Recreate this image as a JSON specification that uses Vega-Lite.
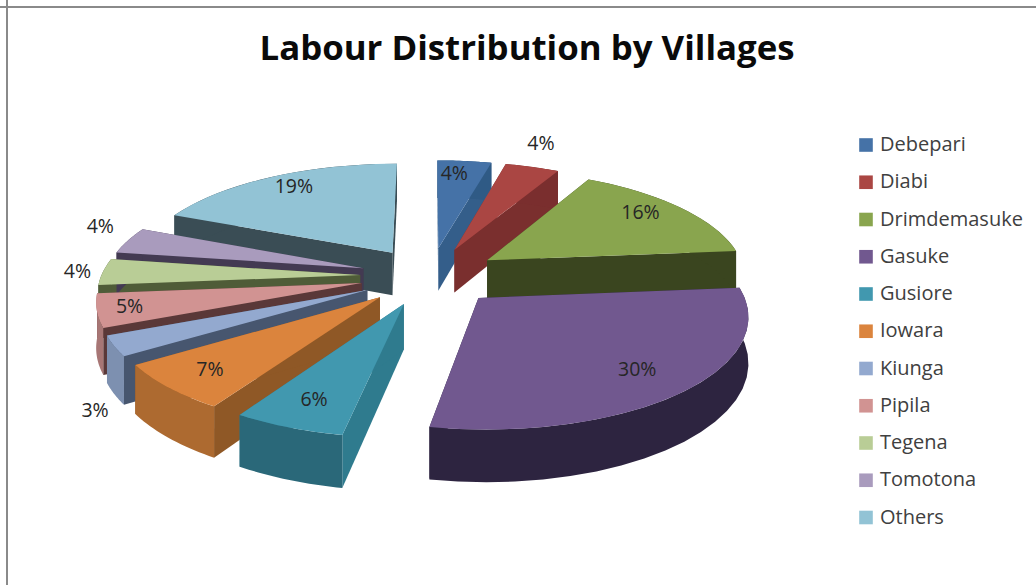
{
  "$schema": "https://vega.github.io/schema/vega-lite/v6.json",
  "width": 1036,
  "height": 585,
  "padding": 0,
  "autosize": {"type": "none"},
  "background": "white",
  "title": {
    "text": "Labour Distribution by Villages",
    "font": "Open Sans",
    "fontWeight": "bold",
    "fontSize": 34.8,
    "color": "#0a0a0a",
    "anchor": "middle",
    "offset": 0,
    "dx": 9,
    "dy": 96,
    "baseline": "alphabetic"
  },
  "config": {"view": {"stroke": null}},
  "params": [
    {"name": "explode", "value": 0.27},
    {"name": "rx", "value": 259},
    {"name": "ry", "value": 107},
    {"name": "tilt", "value": 0.137},
    {"name": "depth", "value": 44}
  ],
  "data": {
    "values": [
      {"village": "Debepari", "share": 4, "rank": 1},
      {"village": "Others", "share": 19, "rank": 11},
      {"village": "Diabi", "share": 4, "rank": 2},
      {"village": "Tomotona", "share": 4, "rank": 10},
      {"village": "Drimdemasuke", "share": 16, "rank": 3},
      {"village": "Tegena", "share": 4, "rank": 9},
      {"village": "Pipila", "share": 5, "rank": 8},
      {"village": "Kiunga", "share": 3, "rank": 7},
      {"village": "Iowara", "share": 7, "rank": 6},
      {"village": "Gasuke", "share": 30, "rank": 4},
      {"village": "Gusiore", "share": 6, "rank": 5}
    ]
  },
  "transform": [
    {"joinaggregate": [{"op": "sum", "field": "share", "as": "total"}]},
    {"stack": "share", "groupby": [], "sort": [{"field": "rank"}], "as": ["s0", "s1"]},
    {"calculate": "datum.s0 / datum.total * 2 * PI", "as": "a0"},
    {"calculate": "datum.s1 / datum.total * 2 * PI", "as": "a1"},
    {"calculate": "(datum.a0 + datum.a1) / 2", "as": "mid"}
  ],
  "encoding": {
    "x": {"type": "quantitative", "scale": {"domain": [-430, 606]}, "axis": null},
    "y": {"type": "quantitative", "scale": {"domain": [-309, 276]}, "axis": null}
  },
  "resolve": {"scale": {"fill": "independent"}},
  "layer": [
    {
      "description": "Radial cut faces of each extruded wedge",
      "transform": [
        {"calculate": "['a', 'b']", "as": "face"},
        {"flatten": ["face"]},
        {"calculate": "sequence(0, 4, 1)", "as": "j"},
        {"flatten": ["j"]},
        {"calculate": "datum.face === 'a' ? datum.a0 : datum.a1", "as": "a"},
        {"calculate": "datum.j === 1 || datum.j === 2 ? 1 : 0", "as": "r"},
        {"calculate": "explode * sin(datum.mid) + datum.r * sin(datum.a)", "as": "u"},
        {"calculate": "explode * cos(datum.mid) + datum.r * cos(datum.a)", "as": "v"},
        {"calculate": "1 / (1 + tilt * datum.v)", "as": "s"},
        {"calculate": "rx * datum.u * datum.s", "as": "px"},
        {"calculate": "ry * datum.v * datum.s - (datum.j >= 2 ? depth * datum.s : 0)", "as": "py"}
      ],
      "mark": {"type": "line", "interpolate": "linear-closed", "strokeWidth": 0},
      "encoding": {
        "x": {"field": "px", "type": "quantitative"},
        "y": {"field": "py", "type": "quantitative"},
        "order": {"field": "j", "type": "quantitative"},
        "detail": {"field": "face"},
        "fill": {
          "field": "village",
          "type": "nominal",
          "legend": null,
          "scale": {
            "domain": ["Debepari", "Diabi", "Drimdemasuke", "Gasuke", "Gusiore", "Iowara", "Kiunga", "Pipila", "Tegena", "Tomotona", "Others"],
            "range": ["#345e8a", "#7a2f2e", "#3a451f", "#2d2440", "#2f7b8e", "#8f5826", "#47566f", "#5a3838", "#4f5c38", "#433a52", "#3a4d55"]
          }
        }
      }
    },
    {
      "description": "Outer rim wall of each wedge",
      "transform": [
        {"calculate": "sequence(0, 2.06, 0.05)", "as": "j"},
        {"flatten": ["j"]},
        {"calculate": "datum.j < 1.025 ? datum.j : 2.05 - datum.j", "as": "t"},
        {"calculate": "datum.a0 + (datum.a1 - datum.a0) * clamp(datum.t, 0, 1)", "as": "a"},
        {"calculate": "explode * sin(datum.mid) + sin(datum.a)", "as": "u"},
        {"calculate": "explode * cos(datum.mid) + cos(datum.a)", "as": "v"},
        {"calculate": "1 / (1 + tilt * datum.v)", "as": "s"},
        {"calculate": "rx * datum.u * datum.s", "as": "px"},
        {"calculate": "ry * datum.v * datum.s - (datum.j < 1.025 ? 0 : depth * datum.s)", "as": "py"}
      ],
      "mark": {"type": "line", "interpolate": "linear-closed", "strokeWidth": 0},
      "encoding": {
        "x": {"field": "px", "type": "quantitative"},
        "y": {"field": "py", "type": "quantitative"},
        "order": {"field": "j", "type": "quantitative"},
        "fill": {
          "field": "village",
          "type": "nominal",
          "legend": null,
          "scale": {
            "domain": ["Debepari", "Diabi", "Drimdemasuke", "Gasuke", "Gusiore", "Iowara", "Kiunga", "Pipila", "Tegena", "Tomotona", "Others"],
            "range": ["#2f5a85", "#7a2e2e", "#3a451f", "#2d2440", "#2a6879", "#ad6a30", "#7d90b0", "#a77675", "#4f5c38", "#433a52", "#3a4d55"]
          }
        }
      }
    },
    {
      "description": "Top surface of each wedge",
      "transform": [
        {"calculate": "sequence(-0.04, 1.02, 0.04)", "as": "t"},
        {"flatten": ["t"]},
        {"calculate": "datum.t < 0 ? 0 : 1", "as": "r"},
        {"calculate": "datum.a0 + (datum.a1 - datum.a0) * clamp(datum.t, 0, 1)", "as": "a"},
        {"calculate": "explode * sin(datum.mid) + datum.r * sin(datum.a)", "as": "u"},
        {"calculate": "explode * cos(datum.mid) + datum.r * cos(datum.a)", "as": "v"},
        {"calculate": "1 / (1 + tilt * datum.v)", "as": "s"},
        {"calculate": "rx * datum.u * datum.s", "as": "px"},
        {"calculate": "ry * datum.v * datum.s", "as": "py"}
      ],
      "mark": {"type": "line", "interpolate": "linear-closed", "strokeWidth": 0},
      "encoding": {
        "x": {"field": "px", "type": "quantitative"},
        "y": {"field": "py", "type": "quantitative"},
        "order": {"field": "t", "type": "quantitative"},
        "fill": {
          "field": "village",
          "type": "nominal",
          "scale": {
            "domain": ["Debepari", "Diabi", "Drimdemasuke", "Gasuke", "Gusiore", "Iowara", "Kiunga", "Pipila", "Tegena", "Tomotona", "Others"],
            "range": ["#4572a7", "#aa4643", "#89a54e", "#71588f", "#4198af", "#db843d", "#93a9cf", "#d19392", "#b9cd96", "#a99bbd", "#92c3d5"]
          },
          "legend": {
            "title": null,
            "orient": "none",
            "legendX": 856,
            "legendY": 135,
            "symbolType": "square",
            "symbolSize": 185,
            "symbolStrokeWidth": 0,
            "labelFont": "Open Sans",
            "labelFontSize": 20,
            "labelColor": "#404040",
            "labelOffset": 4,
            "rowPadding": 17.25,
            "labelLimit": 200
          }
        }
      }
    },
    {
      "description": "Percentage labels, placed around each wedge",
      "transform": [
        {"calculate": "{'Debepari': 1.1, 'Diabi': 1.57, 'Drimdemasuke': 1.09, 'Gasuke': 1.06, 'Gusiore': 1.07, 'Iowara': 1.09, 'Kiunga': 1.54, 'Pipila': 1.15, 'Tegena': 1.37, 'Tomotona': 1.445, 'Others': 1.107}[datum.village]", "as": "labelRadius"},
        {"calculate": "datum.mid + {'Debepari': -0.025, 'Diabi': -0.035, 'Drimdemasuke': -0.04, 'Gasuke': 0, 'Gusiore': 0, 'Iowara': 0, 'Kiunga': -0.28, 'Pipila': 0, 'Tegena': 0, 'Tomotona': 0.07, 'Others': 0.02}[datum.village]", "as": "labelAngle"},
        {"calculate": "datum.labelRadius * sin(datum.labelAngle)", "as": "u"},
        {"calculate": "datum.labelRadius * cos(datum.labelAngle)", "as": "v"},
        {"calculate": "1 / (1 + tilt * datum.v)", "as": "s"},
        {"calculate": "rx * datum.u * datum.s", "as": "px"},
        {"calculate": "ry * datum.v * datum.s", "as": "py"},
        {"calculate": "datum.share + '%'", "as": "label"}
      ],
      "mark": {"type": "text", "font": "Open Sans", "fontSize": 19.5, "color": "#262626", "align": "center", "baseline": "middle"},
      "encoding": {
        "x": {"field": "px", "type": "quantitative"},
        "y": {"field": "py", "type": "quantitative"},
        "text": {"field": "label"}
      }
    },
    {
      "description": "Chart frame, left edge",
      "mark": {"type": "rule", "color": "#8a8a8a", "strokeWidth": 1.5},
      "encoding": {"x": {"datum": -423}}
    },
    {
      "description": "Chart frame, top edge",
      "mark": {"type": "rule", "color": "#8a8a8a", "strokeWidth": 1.5},
      "encoding": {"y": {"datum": 269}}
    }
  ]
}
